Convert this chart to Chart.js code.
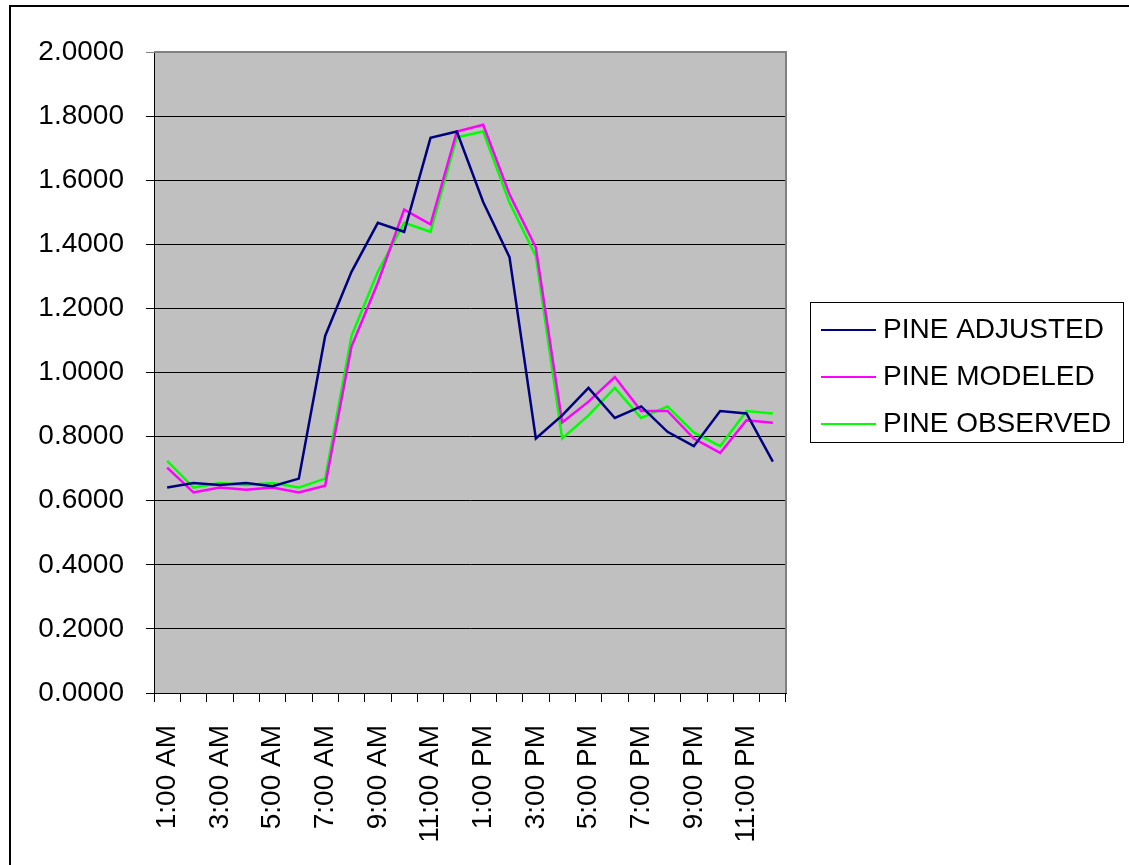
<!DOCTYPE html>
<html>
<head>
<meta charset="utf-8">
<title>Pine</title>
<script src="https://cdn.jsdelivr.net/npm/chart.js@4/dist/chart.umd.min.js"></script>
<style>
  html, body { margin: 0; padding: 0; background: #ffffff; }
  #wrap { width: 1129px; height: 865px; position: relative; }
  canvas { display: block; }
</style>
</head>
<body>
<div id="wrap"><canvas id="chart" width="1129" height="865"></canvas></div>
<script>
// Hourly categories, 1:00 AM through midnight
const hours = [
  '1:00 AM', '2:00 AM', '3:00 AM', '4:00 AM', '5:00 AM', '6:00 AM',
  '7:00 AM', '8:00 AM', '9:00 AM', '10:00 AM', '11:00 AM', '12:00 PM',
  '1:00 PM', '2:00 PM', '3:00 PM', '4:00 PM', '5:00 PM', '6:00 PM',
  '7:00 PM', '8:00 PM', '9:00 PM', '10:00 PM', '11:00 PM', '12:00 AM'
];

const pineAdjusted = [
  0.641, 0.655, 0.649, 0.655, 0.645, 0.669,
  1.114, 1.314, 1.467, 1.439, 1.732, 1.752,
  1.532, 1.360, 0.794, 0.866, 0.952, 0.858,
  0.894, 0.815, 0.770, 0.880, 0.872, 0.722
];

const pineModeled = [
  0.703, 0.626, 0.641, 0.634, 0.641, 0.626,
  0.647, 1.081, 1.280, 1.508, 1.462, 1.752,
  1.773, 1.556, 1.390, 0.844, 0.909, 0.986,
  0.880, 0.880, 0.794, 0.749, 0.851, 0.843
];

const pineObserved = [
  0.724, 0.641, 0.655, 0.649, 0.655, 0.641,
  0.669, 1.114, 1.314, 1.467, 1.439, 1.734,
  1.752, 1.530, 1.363, 0.794, 0.866, 0.952,
  0.858, 0.894, 0.813, 0.770, 0.880, 0.872
];

const seriesNames = ['PINE ADJUSTED', 'PINE MODELED', 'PINE OBSERVED'];
const seriesColors = ['#000080', '#ff00ff', '#00ff00'];

const yMin = 0;
const yMax = 2;
const yStep = 0.2;

const FONT = "'Liberation Sans', Arial, sans-serif";
const FONT_SIZE = 28;

// Grey plot background, drawn under grid and lines
const plotBackground = {
  id: 'plotBackground',
  beforeDraw(chart) {
    const { ctx, chartArea: a } = chart;
    ctx.save();
    ctx.fillStyle = '#c0c0c0';
    ctx.fillRect(a.left, a.top, a.right - a.left, a.bottom - a.top);
    ctx.restore();
  }
};

// Grey frame on the top and right of the plot area
const plotFrame = {
  id: 'plotFrame',
  beforeDatasetsDraw(chart) {
    const { ctx, chartArea: a } = chart;
    ctx.save();
    ctx.strokeStyle = '#808080';
    ctx.lineWidth = 2;
    ctx.beginPath();
    ctx.moveTo(a.left, a.top);
    ctx.lineTo(a.right, a.top);
    ctx.lineTo(a.right, a.bottom);
    ctx.stroke();
    ctx.restore();
  }
};

// Outer chart border and the boxed legend on the right
const chartDecor = {
  id: 'chartDecor',
  afterDraw(chart) {
    const { ctx } = chart;
    ctx.save();
    ctx.strokeStyle = '#000000';
    ctx.lineWidth = 2;
    ctx.strokeRect(10, 6, 1140, 880);

    const box = { x: 810.5, y: 302.5, w: 313, h: 140 };
    ctx.fillStyle = '#ffffff';
    ctx.fillRect(box.x, box.y, box.w, box.h);
    ctx.lineWidth = 1;
    ctx.strokeStyle = '#000000';
    ctx.strokeRect(box.x, box.y, box.w, box.h);

    ctx.font = FONT_SIZE + 'px ' + FONT;
    ctx.textBaseline = 'middle';
    ctx.textAlign = 'left';
    chart.data.datasets.forEach((ds, i) => {
      const y = 330 + i * 47;
      ctx.strokeStyle = ds.borderColor;
      ctx.lineWidth = 2;
      ctx.beginPath();
      ctx.moveTo(821, y);
      ctx.lineTo(876, y);
      ctx.stroke();
      ctx.fillStyle = '#000000';
      ctx.fillText(ds.label, 883, y);
    });
    ctx.restore();
  }
};

const seriesData = [pineAdjusted, pineModeled, pineObserved];

new Chart(document.getElementById('chart'), {
  type: 'line',
  data: {
    labels: hours,
    datasets: seriesData.map((values, i) => ({
      label: seriesNames[i],
      data: values,
      borderColor: seriesColors[i],
      backgroundColor: seriesColors[i],
      borderWidth: 2.5,
      pointRadius: 0,
      tension: 0,
      fill: false
    }))
  },
  options: {
    responsive: false,
    devicePixelRatio: 1,
    animation: false,
    layout: { padding: { left: 0, top: 52, right: 343, bottom: 0 } },
    plugins: {
      legend: { display: false },
      tooltip: { enabled: false }
    },
    scales: {
      x: {
        type: 'category',
        offset: true,
        grid: {
          offset: true,
          drawOnChartArea: false,
          drawTicks: true,
          tickLength: 9,
          color: '#000000'
        },
        border: { display: true, color: '#000000', width: 1 },
        ticks: {
          autoSkip: false,
          minRotation: 90,
          maxRotation: 90,
          padding: 23,
          color: '#000000',
          font: { family: FONT, size: FONT_SIZE },
          callback(value, index) {
            return index % 2 === 0 ? this.getLabelForValue(value) : '';
          }
        },
        afterFit(scale) { scale.height = 172; }
      },
      y: {
        type: 'linear',
        min: yMin,
        max: yMax,
        grid: {
          drawTicks: true,
          tickLength: 8,
          color(ctx) {
            return ctx.tick && ctx.tick.value === yMax ? '#808080' : '#000000';
          }
        },
        border: { display: true, color: '#000000', width: 1 },
        ticks: {
          stepSize: yStep,
          padding: 22,
          color: '#000000',
          font: { family: FONT, size: FONT_SIZE },
          callback(value) { return Number(value).toFixed(4); }
        },
        afterFit(scale) { scale.width = 154; }
      }
    }
  },
  plugins: [plotBackground, plotFrame, chartDecor]
});
</script>
</body>
</html>
